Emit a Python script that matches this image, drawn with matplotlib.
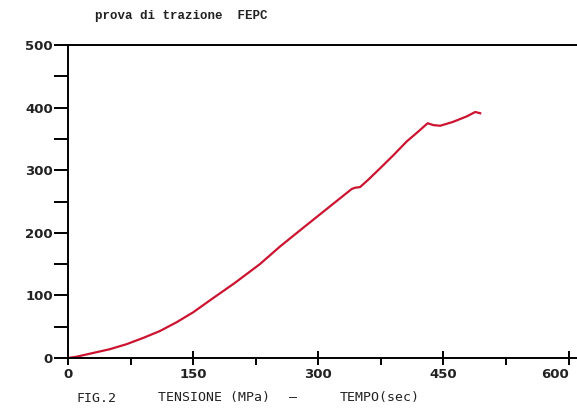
import matplotlib
matplotlib.use("Agg")
import matplotlib.pyplot as plt
from matplotlib.ticker import MultipleLocator

# data
tempo = [0, 10, 20, 30, 50, 70, 90, 110, 130, 150, 170, 200, 230, 254, 280,
         310, 340, 344, 350, 360, 374, 390, 406, 420, 431, 438, 446, 461, 478, 488, 494]
tensione = [0, 2, 5, 8, 14, 22, 32, 43, 57, 73, 92, 120, 150, 178, 206,
            238, 270, 272, 273, 285, 303, 324, 346, 362, 375, 372, 371, 377, 386, 393, 391]
xticks = [0, 150, 300, 450, 600]
yticks = [0, 100, 200, 300, 400, 500]

fig = plt.figure(figsize=(5.77, 4.17), dpi=100)
ax = fig.add_axes([68/577, 1-358/417, 1-68/577, (358-45)/417])
ax.plot(tempo, tensione, color="#cc1430", lw=1.6)

ax.set_xlim(0, 610)
ax.set_ylim(0, 500)
ax.set_xticks(xticks)
ax.set_yticks(yticks)
ax.xaxis.set_minor_locator(MultipleLocator(75))
ax.yaxis.set_minor_locator(MultipleLocator(50))
ax.spines["right"].set_visible(False)
for s in ["left", "bottom", "top"]:
    ax.spines[s].set_linewidth(1.4)
ax.tick_params(axis="y", which="both", direction="out", length=10, width=1.4, pad=1)
ax.tick_params(axis="x", which="major", direction="inout", length=10, width=1.4, pad=2)
ax.tick_params(axis="x", which="minor", direction="out", length=5, width=1.4)
for lab in ax.get_xticklabels() + ax.get_yticklabels():
    lab.set_fontfamily("DejaVu Sans")
    lab.set_fontweight("bold")
    lab.set_fontsize(9.5)
    lab.set_color("#222222")
ax.get_xticklabels()[-1].set_horizontalalignment("right")
ax.get_xticklabels()[-1].set_x(600)

fig.text(95/577, 1-16/417, "prova di trazione  FEPC", family="Liberation Mono",
         weight="bold", fontsize=9, va="center", ha="left", color="#222222")
ylab = 1-398/417
kw = dict(family="DejaVu Sans Mono", fontsize=9.5, va="center", ha="left", color="#222222")
fig.text(76/577, ylab, "FIG.2", **kw)
fig.text(158/577, ylab, "TENSIONE (MPa)", **kw)
fig.text(289/577, ylab, "\u2014", **kw)
fig.text(340/577, ylab, "TEMPO(sec)", **kw)

fig.savefig("out.png", dpi=100)
